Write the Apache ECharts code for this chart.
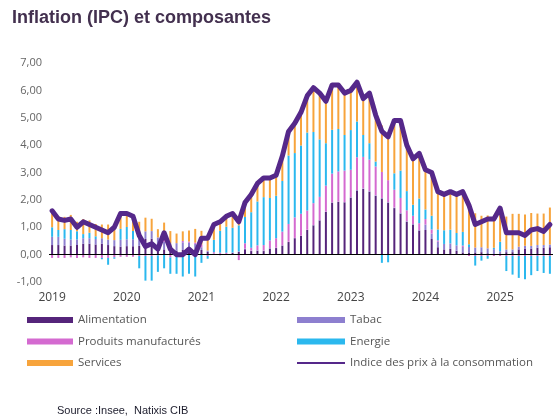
<!DOCTYPE html>
<html>
<head>
<meta charset="utf-8">
<script src="https://cdn.jsdelivr.net/npm/echarts@6/dist/echarts.min.js"></script>
<style>
html, body { margin: 0; padding: 0; background: #fff; }
#chart { width: 553px; height: 418px; }
</style>
</head>
<body>
<div id="chart"></div>
<script>
// mois de janvier 2019 a septembre 2025
var years = ['2019', '2020', '2021', '2022', '2023', '2024', '2025'];
var lastYearMonths = 9;

// contributions (points de %)
var alimentation = [
  0.35, 0.35, 0.33, 0.33, 0.35, 0.40, 0.40, 0.37, 0.40, 0.35, 0.31, 0.29,
  0.31, 0.31, 0.32, 0.57, 0.58, 0.35, 0.19, 0.13, 0.14, 0.17, 0.23, 0.19,
  0.17, 0.10, 0.02, -0.02, 0.00, 0.06, 0.10, 0.20, 0.13, 0.14, 0.13, 0.22,
  0.24, 0.33, 0.46, 0.60, 0.68, 0.90, 1.07, 1.25, 1.56, 1.90, 1.93, 1.91,
  2.08, 2.34, 2.40, 2.30, 2.15, 2.05, 1.90, 1.70, 1.50, 1.20, 1.10, 0.88,
  0.90, 0.57, 0.27, 0.19, 0.21, 0.14, 0.08, 0.08, 0.08, 0.09, 0.05, 0.02,
  0.00, 0.09, 0.09, 0.19, 0.22, 0.22, 0.25, 0.25, 0.27
];
var tabac = [
  0.30, 0.30, 0.25, 0.22, 0.20, 0.20, 0.20, 0.20, 0.20, 0.20, 0.22, 0.25,
  0.25, 0.25, 0.28, 0.28, 0.28, 0.28, 0.28, 0.28, 0.28, 0.28, 0.20, 0.20,
  0.10, 0.05, 0.02, 0.02, 0.02, 0.02, 0.02, 0.02, 0.02, 0.02, 0.02, 0.02,
  0.01, 0.01, 0.01, 0.01, 0.01, 0.01, 0.01, 0.01, 0.01, 0.01, 0.01, 0.01,
  0.02, 0.02, 0.02, 0.02, 0.02, 0.02, 0.02, 0.02, 0.02, 0.02, 0.02, 0.02,
  0.20, 0.20, 0.20, 0.20, 0.20, 0.20, 0.20, 0.20, 0.18, 0.18, 0.18, 0.18,
  0.12, 0.10, 0.10, 0.10, 0.10, 0.10, 0.10, 0.10, 0.10
];
var manufactures = [
  -0.12, -0.12, -0.12, -0.10, -0.12, -0.10, -0.12, -0.12, -0.12, -0.12, -0.10, -0.08,
  -0.08, -0.08, -0.05, -0.05, -0.05, -0.03, 0.25, -0.10, 0.00, 0.05, 0.05, 0.05,
  0.10, -0.05, 0.05, 0.05, 0.05, 0.00, -0.20, 0.20, 0.10, 0.18, 0.20, 0.28,
  0.35, 0.50, 0.65, 0.75, 0.80, 0.70, 0.80, 0.85, 0.95, 1.05, 1.10, 1.15,
  1.00, 1.20, 1.15, 1.15, 1.05, 0.95, 0.80, 0.65, 0.55, 0.40, 0.30, 0.25,
  0.20, 0.15, 0.05, 0.00, -0.02, 0.00, 0.05, -0.05, -0.05, -0.05, -0.05, -0.05,
  -0.05, -0.05, -0.05, -0.05, -0.05, -0.05, -0.05, -0.05, -0.05
];
var energie = [
  0.35, 0.25, 0.35, 0.35, 0.30, 0.15, 0.20, 0.10, -0.05, -0.25, -0.05, 0.40,
  0.45, 0.30, -0.45, -0.90, -0.90, -0.60, -0.50, -0.60, -0.70, -0.80, -0.70, -0.80,
  -0.30, -0.10, 0.45, 0.80, 0.95, 0.90, 0.95, 0.95, 1.30, 1.60, 1.75, 1.55,
  1.55, 1.85, 2.50, 2.35, 2.50, 2.85, 2.60, 2.10, 1.55, 1.60, 1.55, 1.30,
  1.45, 1.30, 0.80, 0.60, 0.18, -0.30, -0.28, 0.60, 1.00, 0.70, 0.40, 0.90,
  0.35, 0.50, 0.40, 0.50, 0.50, 0.45, 0.50, 0.10, -0.35, -0.17, -0.10, 0.05,
  0.35, -0.55, -0.68, -0.80, -0.85, -0.70, -0.55, -0.62, -0.65
];
var services = [
  0.60, 0.50, 0.45, 0.55, 0.35, 0.55, 0.45, 0.45, 0.50, 0.55, 0.55, 0.60,
  0.55, 0.60, 0.60, 0.50, 0.45, 0.30, 0.45, 0.45, 0.35, 0.35, 0.40, 0.50,
  0.50, 0.55, 0.55, 0.35, 0.40, 0.50, 0.35, 0.50, 0.65, 0.65, 0.70, 0.75,
  0.75, 0.90, 0.90, 1.10, 1.20, 1.35, 1.60, 1.70, 1.55, 1.65, 1.60, 1.55,
  1.45, 1.45, 1.40, 1.75, 1.60, 1.70, 1.75, 1.85, 1.80, 1.70, 1.65, 1.60,
  1.45, 1.55, 1.40, 1.30, 1.40, 1.40, 1.45, 1.45, 1.25, 1.15, 1.20, 1.10,
  1.25, 1.20, 1.30, 1.20, 1.15, 1.20, 1.15, 1.15, 1.35
];
// glissement annuel de l'IPC (%)
var ipc = [
  1.6, 1.3, 1.25, 1.3, 1.0, 1.2, 1.1, 1.0, 0.9, 0.8, 1.0, 1.5,
  1.5, 1.4, 0.7, 0.3, 0.4, 0.2, 0.8, 0.2, 0.0, 0.0, 0.2, 0.0,
  0.6, 0.6, 1.1, 1.2, 1.4, 1.5, 1.2, 1.9, 2.2, 2.6, 2.8, 2.8,
  2.9, 3.6, 4.5, 4.8, 5.2, 5.8, 6.1, 5.9, 5.6, 6.2, 6.2, 5.9,
  6.0, 6.3, 5.7, 5.9, 5.1, 4.5, 4.3, 4.9, 4.9, 4.0, 3.5, 3.7,
  3.1, 3.0, 2.3, 2.2, 2.3, 2.2, 2.3, 1.8, 1.1, 1.2, 1.3, 1.3,
  1.7, 0.8, 0.8, 0.8, 0.7, 0.9, 0.95, 0.85, 1.1
];

var months = [];
years.forEach(function (y, i) {
  var n = (i == years.length - 1) ? lastYearMonths : 12;
  for (var m = 1; m <= n; m++) {
    months.push(y + '-' + (m < 10 ? '0' + m : m));
  }
});

var colors = {
  alim: '#55247a',
  tabac: '#8d7fcf',
  manuf: '#d46ad0',
  energie: '#2bb8ee',
  services: '#f7a43c',
  ipc: '#55288a'
};

var chart = echarts.init(document.getElementById('chart'));

function barSerie(name, data, color) {
  return {
    name: name,
    type: 'bar',
    stack: 'contrib',
    barWidth: 2,
    data: data,
    itemStyle: { color: color },
    silent: true
  };
}

var legendText = { color: '#555', fontSize: 11.5, fontFamily: 'Open Sans', lineHeight: 14 };

option = {
  animation: false,
  title: [
    {
      text: 'Inflation (IPC) et composantes',
      left: 7, top: 4,
      textStyle: { fontFamily: 'Liberation Sans', fontSize: 18, fontWeight: 'bold', color: '#43304f' }
    },
    {
      text: 'Source :Insee,  Natixis CIB',
      left: 52, top: 400,
      textStyle: { fontFamily: 'Liberation Sans', fontSize: 11, fontWeight: 'normal', color: '#1c1c2c' }
    }
  ],
  legend: [
    {
      left: 27, top: 313, orient: 'vertical', itemGap: 7.5, padding: 0,
      icon: 'rect', itemWidth: 46, itemHeight: 6, selectedMode: false,
      data: ['Alimentation', 'Produits manufacturés', 'Services'],
      textStyle: legendText
    },
    {
      left: 297, top: 313, orient: 'vertical', itemGap: 7.5, padding: 0,
      icon: 'rect', itemWidth: 48, itemHeight: 6, selectedMode: false,
      data: ['Tabac', 'Energie'],
      textStyle: legendText
    },
    {
      left: 297, top: 356, padding: 0,
      icon: 'rect', itemWidth: 48, itemHeight: 2, selectedMode: false,
      data: ['Indice des prix à la consommation'],
      textStyle: legendText
    }
  ],
  grid: { left: 49, top: 63, width: 508, height: 219 },
  xAxis: {
    type: 'category',
    data: months,
    axisLine: { show: false, onZero: false },
    axisTick: { show: false },
    axisLabel: {
      interval: function (i) { return i % 12 == 0; },
      formatter: function (v) { return v.slice(0, 4); },
      margin: 10,
      color: '#444', fontSize: 12, fontFamily: 'Open Sans'
    }
  },
  yAxis: {
    type: 'value',
    min: -1, max: 7, interval: 1,
    axisLine: { show: false },
    axisTick: { show: false },
    splitLine: { show: false },
    axisLabel: {
      margin: 7,
      formatter: function (v) { return v.toFixed(2).replace('.', ','); },
      color: '#666', fontSize: 11, fontFamily: 'Open Sans'
    }
  },
  series: [
    barSerie('Alimentation', alimentation, colors.alim),
    barSerie('Tabac', tabac, colors.tabac),
    barSerie('Produits manufacturés', manufactures, colors.manuf),
    barSerie('Energie', energie, colors.energie),
    barSerie('Services', services, colors.services),
    {
      name: 'Indice des prix à la consommation',
      type: 'line',
      data: ipc,
      symbol: 'none',
      z: 5,
      itemStyle: { color: colors.ipc },
      lineStyle: { color: colors.ipc, width: 5, join: 'round', cap: 'round' },
      markLine: {
        silent: true,
        symbol: 'none',
        label: { show: false },
        lineStyle: { color: '#000', width: 1, type: 'solid' },
        data: [{ yAxis: 0 }]
      }
    }
  ]
};
chart.setOption(option);
</script>
</body>
</html>
